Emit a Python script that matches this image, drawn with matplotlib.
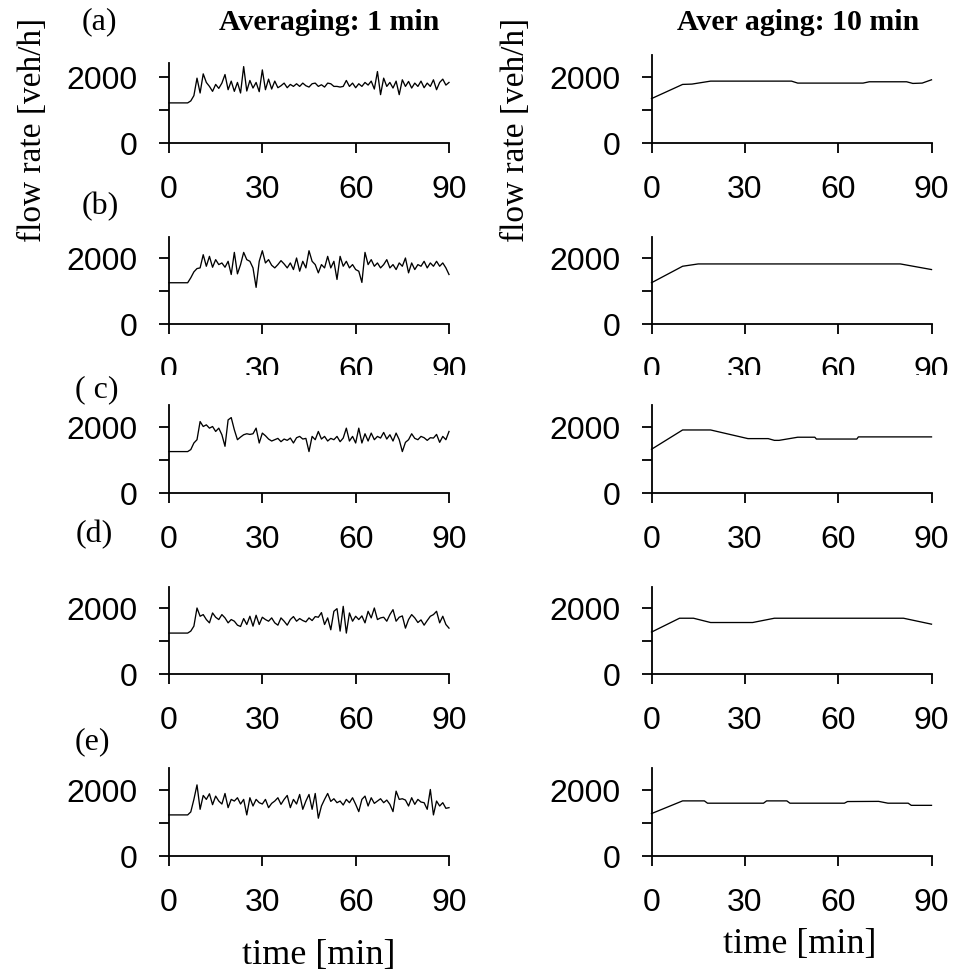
import matplotlib
matplotlib.use("Agg")
import matplotlib.pyplot as plt
from matplotlib.patches import Rectangle

# ---------------- data ----------------
minutes = list(range(0, 91))

flow_1min_a = [1200]*7 + [1260, 1420, 1950, 1500, 2080, 1820, 1700, 1550, 1760, 1640,
    1800, 2060, 1600, 1860, 1550, 1820, 1500, 2300, 1560, 1880,
    1650, 1820, 1540, 2200, 1600, 1920, 1620, 1860, 1660, 1720,
    1800, 1660, 1760, 1700, 1780, 1700, 1800, 1720, 1680, 1780,
    1800, 1700, 1750, 1680, 1800, 1780, 1700, 1700, 1680, 1700,
    1880, 1700, 1800, 1660, 1780, 1700, 1820, 1740, 1860, 1620,
    2150, 1450, 1950, 1700, 1820, 1650, 1860, 1450, 1900, 1700,
    1850, 1650, 1800, 1700, 1860, 1660, 1800, 1700, 1900, 1600,
    1820, 1920, 1740, 1820]

flow_1min_b = [1250]*7 + [1400, 1580, 1680, 1700, 2100, 1750, 2050, 1720, 1950, 1800,
    1850, 1720, 1900, 1500, 2170, 1520, 1800, 2170, 1950, 1900,
    1700, 1110, 1900, 2220, 1850, 1950, 1780, 1700, 1800, 1920,
    1820, 1700, 1850, 1650, 2000, 1600, 1900, 1700, 2220, 1900,
    1800, 1550, 1800, 1700, 2050, 1700, 1900, 1350, 2050, 1750,
    1900, 1700, 1800, 1650, 1600, 1260, 2170, 1800, 1950, 1750,
    1850, 1700, 1800, 1950, 1700, 1800, 1650, 1850, 1750, 2000,
    1550, 1850, 1650, 1800, 1750, 1900, 1700, 1850, 1750, 1900,
    1750, 1850, 1700, 1500]

flow_1min_c = [1240]*7 + [1300, 1500, 1600, 2150, 2000, 2050, 1950, 2000, 1850, 1950,
    1750, 1400, 2200, 2270, 1900, 1600, 1680, 1750, 1780, 1760,
    1780, 1950, 1500, 1800, 1720, 1620, 1560, 1600, 1640, 1540,
    1620, 1580, 1650, 1500, 1660, 1700, 1620, 1640, 1240, 1700,
    1600, 1850, 1620, 1700, 1560, 1640, 1600, 1700, 1540, 1650,
    1950, 1560, 1700, 1500, 1950, 1500, 1780, 1560, 1800, 1600,
    1700, 1650, 1820, 1620, 1750, 1560, 1800, 1600, 1240, 1520,
    1600, 1780, 1640, 1600, 1700, 1660, 1580, 1660, 1650, 1760,
    1520, 1700, 1600, 1850]

flow_1min_d = [1240]*7 + [1300, 1450, 2000, 1750, 1800, 1650, 1550, 1850, 1720, 1650,
    1800, 1700, 1550, 1650, 1600, 1480, 1440, 1680, 1500, 1750,
    1450, 1780, 1500, 1720, 1650, 1600, 1700, 1550, 1480, 1700,
    1600, 1480, 1650, 1740, 1600, 1680, 1620, 1580, 1700, 1620,
    1740, 1720, 1860, 1500, 1700, 1340, 1900, 1980, 1300, 2050,
    1240, 1850, 1600, 1750, 1650, 1760, 1550, 1900, 1700, 2000,
    1650, 1700, 1720, 1600, 1800, 1950, 1600, 1720, 1760, 1390,
    1650, 1800, 1700, 1560, 1640, 1480, 1620, 1750, 1800, 1900,
    1550, 1750, 1500, 1390]

flow_1min_e = [1230]*7 + [1320, 1700, 2140, 1400, 1820, 1700, 1870, 1540, 1800, 1650,
    1560, 1880, 1450, 1700, 1650, 1750, 1560, 1700, 1230, 1750,
    1500, 1700, 1600, 1560, 1700, 1450, 1580, 1650, 1750, 1550,
    1700, 1820, 1450, 1700, 1560, 1850, 1400, 1650, 1850, 1400,
    1880, 1130, 1500, 1700, 1880, 1640, 1720, 1600, 1650, 1530,
    1700, 1600, 1750, 1550, 1330, 1700, 1800, 1500, 1750, 1580,
    1650, 1720, 1600, 1680, 1550, 1330, 1950, 1700, 1720, 1680,
    1500, 1750, 1550, 1700, 1620, 1600, 1400, 2000, 1230, 1650,
    1500, 1600, 1430, 1450]

t_10min_a = [0, 10, 13, 19, 45, 47, 68, 70, 82, 84, 87, 90]
flow_10min_a = [1330, 1760, 1770, 1860, 1860, 1800, 1800, 1840, 1840, 1790, 1800, 1900]
t_10min_b = [0, 10, 15, 80, 90]
flow_10min_b = [1250, 1750, 1820, 1820, 1650]
t_10min_c = [0, 10, 19, 31, 37.5, 39.5, 41, 47, 52.5, 53, 66, 66.5, 90]
flow_10min_c = [1310, 1895, 1895, 1633, 1633, 1580, 1580, 1675, 1675, 1620, 1620, 1685, 1685]
t_10min_d = [0, 9, 13.5, 19, 32.5, 39.5, 81, 90]
flow_10min_d = [1270, 1690, 1690, 1560, 1560, 1690, 1690, 1510]
t_10min_e = [0, 10, 17, 18, 36, 37, 43.5, 44.5, 62, 63, 73, 76, 82.5, 83.5, 90]
flow_10min_e = [1270, 1655, 1655, 1585, 1585, 1655, 1655, 1585, 1585, 1635, 1640, 1585, 1585, 1520, 1520]

panel_labels = ["(a)", "(b)", "( c)", "(d)", "(e)"]
x_ticks = [0, 30, 60, 90]
y_ticks = [0, 1000, 2000]
y_ticklabels = ["0", "", "2000"]
titles = ["Averaging: 1 min", "Aver aging: 10 min"]
ylabel = "flow rate [veh/h]"
xlabel = "time [min]"

left_series = [flow_1min_a, flow_1min_b, flow_1min_c, flow_1min_d, flow_1min_e]
right_series = [(t_10min_a, flow_10min_a), (t_10min_b, flow_10min_b), (t_10min_c, flow_10min_c),
                (t_10min_d, flow_10min_d), (t_10min_e, flow_10min_e)]

# ---------------- layout ----------------
W, H = 955, 978
fig = plt.figure(figsize=(W/100, H/100), dpi=100)

SANS = ["Liberation Sans", "DejaVu Sans"]
SERIF = ["Liberation Serif", "DejaVu Serif"]

px_per_2000 = 66.0
row_zero_px = [143.5, 325, 493.5, 675, 856.5]
col_left_px = [169, 651.5]
axw_px = 280
ymax_left = [2400, 2650, 2650, 2650, 2650]
ymax_right = [2650, 2650, 2650, 2650, 2650]


def make_axes(col, row, ymax):
    h = px_per_2000 * ymax / 2000.0
    x0 = col_left_px[col] / W
    y0 = 1 - row_zero_px[row] / H
    ax = fig.add_axes([x0, y0, axw_px / W, h / H])
    ax.set_facecolor("none")
    ax.set_xlim(0, 90)
    ax.set_ylim(0, ymax)
    for s in ["top", "right"]:
        ax.spines[s].set_visible(False)
    for s in ["left", "bottom"]:
        ax.spines[s].set_linewidth(1.3)
    ax.set_xticks(x_ticks)
    ax.set_xticklabels([str(v) for v in x_ticks])
    ax.set_yticks(y_ticks)
    ax.set_yticklabels(y_ticklabels)
    ax.tick_params(axis="both", direction="out", length=7.5, width=1.3,
                   labelsize=23)
    ax.tick_params(axis="x", pad=15)
    ax.tick_params(axis="y", pad=15)
    for lab in ax.get_xticklabels() + ax.get_yticklabels():
        lab.set_family(SANS)
    return ax


for row in range(5):
    ax = make_axes(0, row, ymax_left[row])
    ax.plot(minutes, left_series[row], color="black", lw=0.95, clip_on=False)
    ax = make_axes(1, row, ymax_right[row])
    t, v = right_series[row]
    ax.plot(t, v, color="black", lw=0.95, clip_on=False)

# the tick labels of row (b) are cut off at the bottom in the original figure
fig.patches.append(Rectangle((0, 1 - 385 / H), 1, 9 / H, transform=fig.transFigure,
                             facecolor="white", edgecolor="none", zorder=5))


def ftext(xpx, ypx, s, **kw):
    fig.text(xpx / W, 1 - ypx / H, s, ha="center", va="center", zorder=6, **kw)


ftext(329, 22, titles[0], family=SERIF, fontsize=21.5, fontweight="bold")
ftext(798, 22, titles[1], family=SERIF, fontsize=21.5, fontweight="bold")

for lab, (xp, yp) in zip(panel_labels, [(99, 22), (100, 207), (97, 390), (94, 535), (92, 742)]):
    ftext(xp, yp, lab, family=SERIF, fontsize=23)

ftext(33, 130, ylabel, family=SERIF, fontsize=24, rotation=90)
ftext(516, 130, ylabel, family=SERIF, fontsize=24, rotation=90)

ftext(319, 956, xlabel, family=SERIF, fontsize=26)
ftext(800, 944, xlabel, family=SERIF, fontsize=26)

fig.savefig("out.png", dpi=100)
